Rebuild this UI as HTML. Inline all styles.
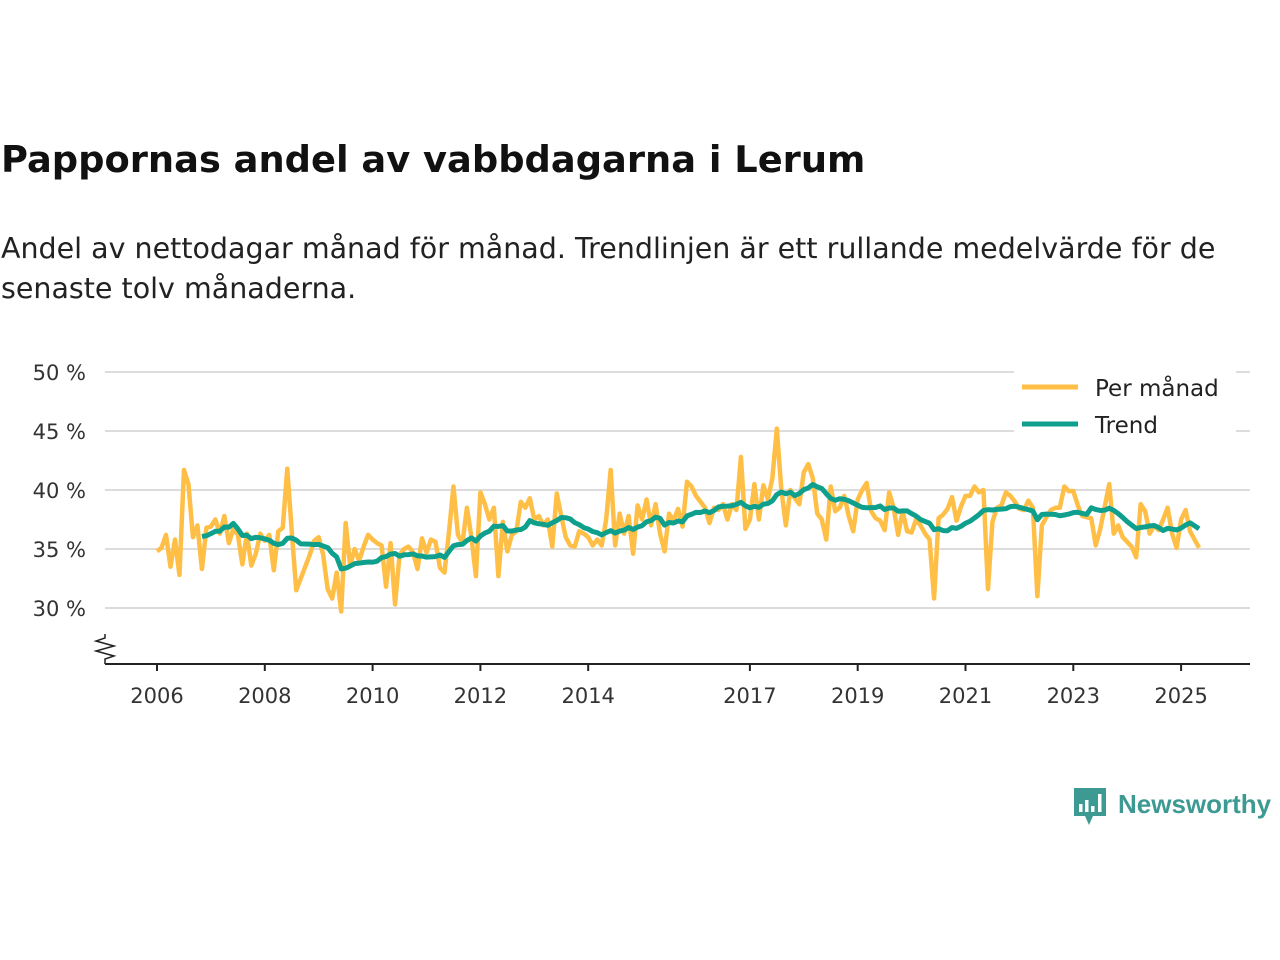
<!DOCTYPE html>
<html><head><meta charset="utf-8">
<style>
body{margin:0;width:1280px;height:960px;background:#fff;font-family:"DejaVu Sans","Liberation Sans",sans-serif;position:relative;overflow:hidden}
#title{position:absolute;left:1px;top:138px;font-size:36.8px;font-weight:bold;color:#111;margin:0;white-space:nowrap}
#sub{position:absolute;left:1px;top:229px;font-size:28.5px;line-height:40px;color:#222;width:1232px;margin:0}
svg{position:absolute;left:0;top:0}
</style></head><body>
<h1 id="title">Pappornas andel av vabbdagarna i Lerum</h1>
<p id="sub">Andel av nettodagar månad för månad. Trendlinjen är ett rullande medelvärde för de senaste tolv månaderna.</p>
<svg id="chart" width="1280" height="960"></svg>
<script>
const startYear = 2006;
const xTickYears = [2006,2008,2010,2012,2014,2017,2019,2021,2023,2025];
const yTicks = [30,35,40,45,50];
const monthly = [
34.8,35.1,36.2,33.5,35.8,32.8,41.7,40.5,36,37,33.3,36.8,
36.9,37.5,36.3,37.8,35.5,36.7,36.2,33.7,36.3,33.6,34.6,36.3,
35.7,36.2,33.2,36.5,36.8,41.8,36.5,31.5,32.5,33.5,34.5,35.7,
36,34.5,31.6,30.8,33,29.7,37.2,33.6,35,34,35.2,36.2,
35.8,35.5,35.3,31.8,35.5,30.3,34.5,35,35.2,34.7,33.3,35.9,
34.7,35.8,35.6,33.4,33,36.4,40.3,36.2,35.5,38.5,36,32.7,
39.8,38.8,37.5,38.5,32.7,37.3,34.8,36.2,36.5,39,38.5,39.3,
37.5,37.8,37,37.5,35.2,39.7,37.8,36,35.3,35.2,36.5,36.3,
36,35.3,35.8,35.3,37.5,41.7,35.3,38,36.3,37.8,34.6,38.7,
37.5,39.2,37,38.8,36.3,34.8,38,37.4,38.4,36.9,40.7,40.3,
39.5,39,38.5,37.2,38.5,38.3,38.8,37.5,38.8,38.3,42.8,36.7,
37.5,40.5,37.5,40.4,39.2,41,45.2,40,37,40,39.3,38.8,
41.5,42.2,41,38,37.5,35.8,40.3,38.2,38.5,39.5,37.8,36.5,
39.2,40,40.6,38.2,37.6,37.4,36.6,39.8,38.5,36.2,38.2,36.5,
36.4,37.5,37,36.3,35.8,30.8,37.6,37.9,38.4,39.4,37.4,38.6,
39.5,39.5,40.3,39.8,40,31.6,37.3,38.5,38.7,39.8,39.5,39,
38.4,38.3,39.1,38.5,31,37,37.7,38.3,38.5,38.5,40.3,39.9,
39.9,38.7,37.8,37.7,37.6,35.3,36.7,38.6,40.5,36.3,37,36,
35.6,35.2,34.3,38.8,38.2,36.3,37,36.6,37.5,38.5,36.3,35.1,
37.5,38.3,36.5,35.8,35.1
];
const NS="http://www.w3.org/2000/svg";
const svg=document.getElementById('chart');
const x=m=>157+m*(53.9/12);
const y=v=>608-(v-30)*11.8;
function mk(t,a){const e=document.createElementNS(NS,t);for(const k in a)e.setAttribute(k,a[k]);svg.appendChild(e);return e;}
yTicks.forEach(v=>{
  const g=mk('line',{x1:105,x2:1250,y1:y(v),y2:y(v),stroke:'#dcdcdc','stroke-width':2});
  
  
  const t=mk('text',{x:86,y:y(v)+8,'text-anchor':'end','font-size':21,fill:'#333'});
  t.textContent=v+' %';
  
  
});
const ax=mk('line',{x1:105,x2:1250,y1:664,y2:664,stroke:'#222','stroke-width':2});


const br=mk('path',{d:'M105 634 L105 638 L96 641 L114 646 L96 651 L114 656 L105 659 L105 664',fill:'none',stroke:'#222','stroke-width':1.5});


xTickYears.forEach(yr=>{
  const xx=x((yr-startYear)*12);
  const tk=mk('line',{x1:xx,x2:xx,y1:664,y2:671,stroke:'#222','stroke-width':2});
  
  
  const t=mk('text',{x:xx,y:703,'text-anchor':'middle','font-size':21,fill:'#333'});
  t.textContent=yr;
  
  
});
const p1=mk('polyline',{points:monthly.map((v,i)=>x(i)+','+y(v)).join(' '),fill:'none',stroke:'#ffbf47','stroke-width':4.5,'stroke-linejoin':'round'});


const trend=[];
for(let i=10;i<monthly.length;i++){let s=0,n=0;for(let j=Math.max(0,i-11);j<=i;j++){s+=monthly[j];n++;}trend.push(x(i)+','+y(s/n));}
const p2=mk('polyline',{points:trend.join(' '),fill:'none',stroke:'#0fa08d','stroke-width':5,'stroke-linejoin':'round'});


const lb=mk('rect',{x:1014,y:368,width:222,height:67,fill:'#fff'});


[['Per månad','#ffbf47',387],['Trend','#0fa08d',424]].forEach(([n,c,yy])=>{
  const l=mk('line',{x1:1022,x2:1078,y1:yy,y2:yy,stroke:c,'stroke-width':5});
  
  
  const t=mk('text',{x:1095,y:yy+9,'font-size':23,fill:'#222'});
  t.textContent=n;
  
  
});
const lg=mk('path',{d:'M1074 788 h32 v28 h-13 l-4 9 l-4 -9 h-11 z',fill:'#3d9a93'});


[[1079,804,8],[1085,800,12],[1091,806,6],[1098,794,18]].forEach(([a,b,h])=>{mk('rect',{x:a,y:b,width:3.5,height:h,fill:'#fff'});});
const lt=mk('text',{x:1118,y:813,'font-size':26,'font-weight':'bold',fill:'#3d9a93','font-family':'Liberation Sans, sans-serif'});
lt.textContent='Newsworthy';


</script>
</body></html>
